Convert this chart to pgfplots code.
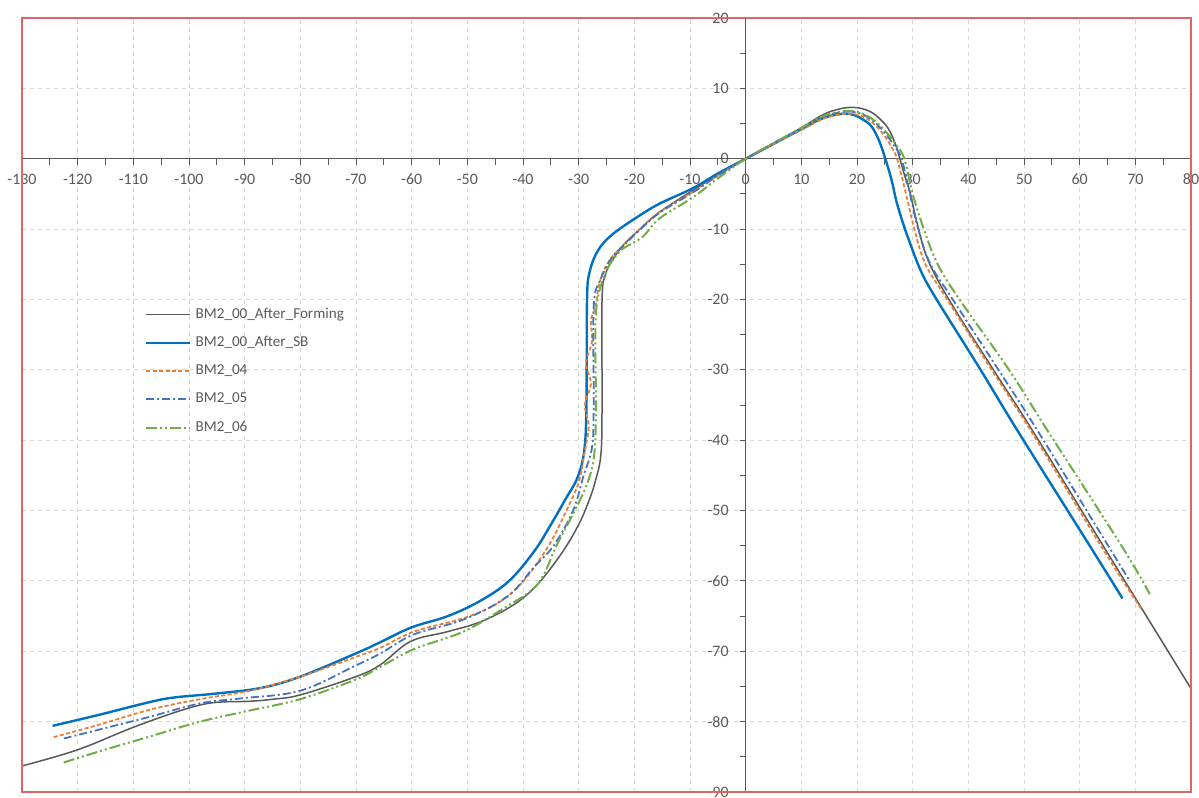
\documentclass[border=0pt]{standalone}
\usepackage{fontspec}
\setmainfont{Carlito}
\usepackage{pgfplots}
\pgfplotsset{compat=1.18}
\usetikzlibrary{calc}
\definecolor{axgray}{HTML}{595959}
\definecolor{labgray}{HTML}{595959}
\definecolor{gridgray}{HTML}{D9D9D9}
\definecolor{frame}{HTML}{E06666}
\definecolor{cform}{HTML}{595959}
\definecolor{csb}{HTML}{0070C0}
\definecolor{c04}{HTML}{ED7D31}
\definecolor{c05}{HTML}{4472C4}
\definecolor{c06}{HTML}{70AD47}

\begin{document}
\begin{tikzpicture}
\begin{axis}[
  scale only axis, width=584.5bp, height=387bp,
  xmin=-130, xmax=80, ymin=-90, ymax=20,
  axis lines=middle,
  axis line style={-, draw=axgray, line width=0.6bp},
  xtick distance=10, ytick distance=10,
  minor x tick num=1, minor y tick num=1,
  tick align=outside, major tick length=3bp, minor tick length=3bp,
  tick style={draw=axgray, line width=0.5bp},
  hide obscured x ticks=false, hide obscured y ticks=false,
  grid=major,
  major grid style={draw=gridgray, line width=0.5bp, dash pattern=on 2bp off 2bp},
  /pgf/number format/assume math mode=true,
  ticklabel style={font=\fontsize{8}{9}\selectfont, text=labgray},
  x tick label style={yshift=-1bp},
  y tick label style={xshift=-2bp},
  legend style={at={(axis cs:-109,-20)}, anchor=north west, draw=none, fill=none,
    font=\fontsize{7.6}{9}\selectfont, text=labgray, row sep=3.6bp,
    /tikz/every even column/.append style={column sep=2bp}},
  legend cell align=left,
  legend image code/.code={\draw[#1] (0bp,0bp) -- (22bp,0bp);},
  every axis plot/.append style={smooth, tension=0.6},
]
\coordinate (bl) at (rel axis cs:0,0);
\coordinate (tr) at (rel axis cs:1,1);

% BM2_00_After_Forming
\addplot[cform, line width=0.75bp] coordinates {
(-130,-86.3) (-120,-84) (-110,-80.8) (-101,-78.3) (-95.6,-77.3) (-89,-77.1)
(-84.8,-76.8) (-80,-76.2) (-70,-73.6) (-65.6,-71.9) (-60.2,-68.6) (-53.5,-67.2)
(-47.6,-65.8) (-41.7,-63.4) (-37.4,-60.5) (-33,-56) (-30,-52) (-28.2,-48.7)
(-27,-45.8) (-26,-42) (-25.8,-35) (-25.8,-20) (-25.2,-16.5) (-24,-14.5)
(-22,-12.3) (-19,-10) (-15.5,-7.6) (-9.5,-4.5) (-5,-2.3) (0,0)
(5,2.2) (10,4.4) (14,6.3) (17,7.1) (19.3,7.3) (21,7.1) (22.6,6.6) (24.2,5.6)
(25.6,4.3) (26.8,2.3) (27.7,0) (28.6,-2.5) (29.5,-4.7) (30.9,-9.5) (32.7,-14.3)
(36.5,-20) (44.5,-30) (51.5,-38.6) (64.6,-55.5) (80,-75.3)
};
% BM2_00_After_SB
\addplot[csb, line width=1.2bp] coordinates {
(-124.5,-80.6) (-116,-79) (-108,-77.4) (-103,-76.6) (-95,-76) (-87,-75.2)
(-80,-73.6) (-70,-70.3) (-65.6,-68.7) (-60,-66.6) (-53.5,-65) (-47.6,-62.8)
(-42.5,-60) (-38,-55.8) (-35,-52) (-32.3,-48.3) (-30.2,-45.3) (-29,-41.5)
(-28.6,-35) (-28.5,-20) (-28,-16) (-26.5,-13) (-24,-10.8) (-19.5,-8.3)
(-15.5,-6.4) (-9.5,-4.2) (-5,-2.1) (0,0)
(5,2.1) (10,4.2) (14,5.8) (17.5,6.4) (19.5,6.2) (21,5.6) (22.6,4.6) (24,2.5)
(25.2,-0.3) (26.2,-3) (27.1,-6.1) (28.2,-9) (29.2,-11.3) (31.5,-16) (34.3,-20)
(42.2,-30) (48.8,-38.6) (62.2,-55.5) (67.7,-62.5)
};
% BM2_04
\addplot[c04, line width=0.9bp, dash pattern=on 2bp off 1.2bp] coordinates {
(-124.3,-82.2) (-116,-80.4) (-107,-78.3) (-98,-76.8) (-89,-75.6) (-80,-73.6)
(-70,-70.8) (-65.6,-69.5) (-59.6,-67.2) (-50.7,-65.3) (-44.6,-63.2) (-40,-60.1)
(-35.4,-55) (-32.2,-50) (-30,-46) (-29,-42) (-28.2,-38) (-28.9,-35)
(-27.8,-32) (-28.7,-29) (-27.6,-26) (-27.8,-23) (-27,-21) (-26.1,-17.2)
(-24.5,-14.5) (-22,-12.3) (-19,-10) (-15.5,-7.6) (-9.5,-4.7) (-5,-2.4) (0,0)
(5,2.1) (10,4.1) (14,5.7) (17,6.3) (19,6.4) (21,6) (23,5) (25,3.2) (26.3,1.5)
(27.2,0) (28.8,-5) (30.3,-10) (32.3,-15) (36.2,-20) (44.2,-30) (51.2,-38.6)
(64.2,-55.5) (71,-63.9)
};
% BM2_05
\addplot[c05, line width=0.9bp, dash pattern=on 4bp off 1.5bp on 1bp off 1.5bp] coordinates {
(-122.5,-82.4) (-116,-81.1) (-107,-79.3) (-98,-77.4) (-90.7,-76.7) (-80,-75.6)
(-70,-72) (-65.6,-70.3) (-59.6,-67.6) (-50.7,-65.5) (-42.8,-62.2) (-38,-58)
(-34.5,-55) (-31,-50) (-29.1,-45) (-27.6,-41) (-27.3,-35) (-27.3,-21)
(-26.1,-17.2) (-24,-14) (-22,-12.4) (-19,-10.1) (-15.5,-7.7) (-9.5,-4.8)
(-5,-2.4) (0,0)
(5,2.2) (10,4.3) (14,6) (17,6.6) (19,6.7) (21,6.3) (23,5.3) (25,3.7) (26.7,1.8)
(28,0) (29.5,-5) (31,-10) (33.2,-15) (37.2,-20) (45.4,-30) (52.4,-38.6)
(65.5,-55.5) (69,-60)
};
% BM2_06
\addplot[c06, line width=1bp, dash pattern=on 5.5bp off 1.5bp on 1bp off 1.5bp on 1bp off 1.5bp] coordinates {
(-122.5,-85.8) (-116,-84.2) (-107,-82.1) (-98,-80) (-89,-78.4) (-80,-76.8)
(-70,-74) (-65.6,-72.2) (-59.6,-69.7) (-50.7,-67.2) (-43.5,-63.9) (-37.4,-60.5)
(-34,-55) (-30.7,-50) (-28.4,-46) (-27.2,-42) (-26.9,-35) (-26.9,-22)
(-25.2,-16.3) (-23,-13.5) (-21.5,-12.5) (-18.5,-11.1) (-15.5,-8.5) (-9.5,-5.5)
(-5,-2.8) (0,0)
(5,2.2) (10,4.4) (14,6.1) (17,6.7) (19,6.8) (21,6.4) (23,5.5) (25,4) (27,2)
(28.5,0) (30,-5) (32,-10) (34.5,-15) (38.4,-20) (47.3,-30) (54.2,-38.6)
(67.9,-55.5) (72.6,-61.9)
};
\legend{BM2\_00\_After\_Forming, BM2\_00\_After\_SB, BM2\_04, BM2\_05, BM2\_06}
\end{axis}
\draw[frame, line width=0.75bp] (bl) rectangle (tr);
\pgfresetboundingbox
\useasboundingbox ($(bl)+(-11bp,-3bp)$) rectangle ($(tr)+(4bp,9bp)$);
\end{tikzpicture}
\end{document}
